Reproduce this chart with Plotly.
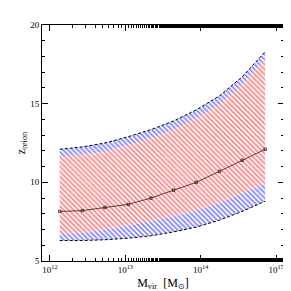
import plotly.graph_objects as go

log_mass = [12.13, 12.43, 12.73, 13.04, 13.34, 13.64, 13.94, 14.25, 14.55, 14.855]
mass = [10 ** v for v in log_mass]
z_median = [8.15, 8.2, 8.4, 8.6, 9.0, 9.5, 10.0, 10.7, 11.4, 12.1]
z_outer_hi = [12.1, 12.25, 12.5, 12.9, 13.35, 13.9, 14.6, 15.5, 16.7, 18.3]
z_inner_hi = [11.6, 11.75, 11.95, 12.35, 12.8, 13.35, 14.05, 14.95, 16.2, 17.8]
z_inner_lo = [6.7, 6.8, 7.0, 7.25, 7.55, 7.85, 8.2, 8.7, 9.3, 9.95]
z_outer_lo = [6.3, 6.3, 6.35, 6.45, 6.6, 6.85, 7.15, 7.6, 8.15, 8.8]

x_tickvals = [1e12, 1e13, 1e14, 1e15]
x_ticktext = ["10<sup>12</sup>", "10<sup>13</sup>", "10<sup>14</sup>", "10<sup>15</sup>"]
y_tickvals = [5, 10, 15, 20]

fig = go.Figure()
fig.add_trace(go.Scatter(x=mass, y=z_outer_lo, mode="lines",
                         line=dict(color="black", dash="3px,2px", width=1), showlegend=False))
fig.add_trace(go.Scatter(x=mass, y=z_inner_lo, mode="lines", line=dict(width=0),
                         fill="tonexty", fillcolor="white",
                         fillpattern=dict(shape="\\", fgcolor="blue", bgcolor="white", size=3.5, solidity=0.45),
                         showlegend=False))
fig.add_trace(go.Scatter(x=mass, y=z_inner_hi, mode="lines", line=dict(width=0),
                         fill="tonexty", fillcolor="white",
                         fillpattern=dict(shape="\\", fgcolor="red", bgcolor="white", size=3.5, solidity=0.45),
                         showlegend=False))
fig.add_trace(go.Scatter(x=mass, y=z_outer_hi, mode="lines",
                         line=dict(color="black", dash="3px,2px", width=1),
                         fill="tonexty", fillcolor="white",
                         fillpattern=dict(shape="\\", fgcolor="blue", bgcolor="white", size=3.5, solidity=0.45),
                         showlegend=False))
fig.add_trace(go.Scatter(x=mass, y=z_median, mode="lines+markers",
                         line=dict(color="#222222", width=0.8),
                         marker=dict(symbol="square-open", size=2.5, color="#222222", line=dict(width=0.8)),
                         showlegend=False))

font = dict(family="Liberation Serif", size=9, color="black")
fig.update_layout(
    width=291, height=291,
    margin=dict(l=32, r=15, t=16, b=32),
    plot_bgcolor="white", paper_bgcolor="white",
    font=font,
    xaxis=dict(type="log", range=[11.895, 15.105], tickvals=x_tickvals, ticktext=x_ticktext,
               ticks="inside", ticklen=6, tickcolor="black", showline=True, linecolor="black",
               linewidth=1, mirror="ticks", showgrid=False, zeroline=False,
               minor=dict(ticks="inside", ticklen=3, tickcolor="black", showgrid=False),
               title=dict(text="M<sub>vir</sub>  [M<sub>⊙</sub>]", font=dict(family="Liberation Serif", size=12), standoff=4)),
    yaxis=dict(range=[5, 20], tickvals=y_tickvals, ticks="inside", ticklen=6, tickcolor="black",
               showline=True, linecolor="black", linewidth=1, mirror="ticks", showgrid=False,
               zeroline=False,
               minor=dict(dtick=1, ticks="inside", ticklen=3, tickcolor="black", showgrid=False),
               title=dict(text="z<sub>reion</sub>", font=dict(family="Liberation Serif", size=12), standoff=2)),
)
fig.write_html("out.html")
